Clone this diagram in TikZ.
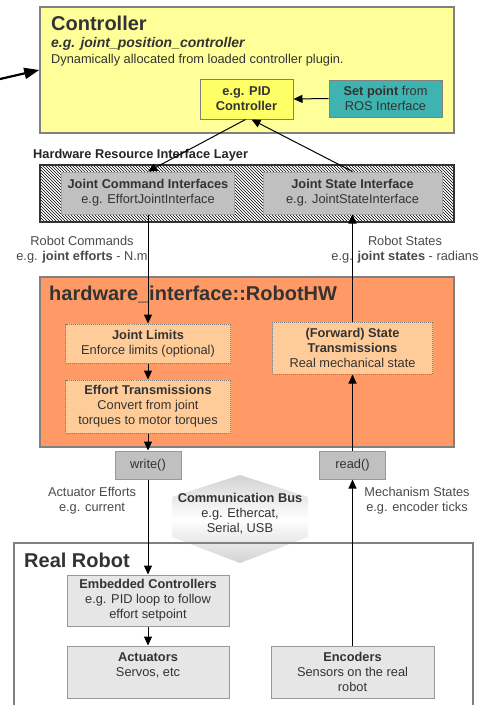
\documentclass[tikz,border=0pt]{standalone}
\usepackage{fontspec}
\setmainfont{Liberation Sans}
\usetikzlibrary{arrows.meta,patterns}
\definecolor{ctrlY}{HTML}{FFFF99}
\definecolor{pidY}{HTML}{FFFF66}
\definecolor{tealbox}{HTML}{3FB3AF}
\definecolor{ifgray}{HTML}{C0C0C0}
\definecolor{hwor}{HTML}{FF9966}
\definecolor{peach}{HTML}{FFCC99}
\definecolor{lgray}{HTML}{E6E6E6}
\definecolor{txt}{HTML}{333333}
\definecolor{lbl}{HTML}{4A4A4A}
\definecolor{bord}{HTML}{808080}
\tikzset{
  box/.style={draw=bord, line width=1pt, inner sep=2pt, align=center, text=txt,
              font=\fontsize{12.8}{15}\selectfont},
  dotbox/.style={box, draw=gray, dash pattern=on 1pt off 1pt, fill=peach},
  bigtitle/.style={anchor=base west, text=txt, font=\fontsize{20}{23}\selectfont\bfseries, inner sep=0pt},
  small/.style={anchor=base west, text=txt, font=\fontsize{12.8}{15}\selectfont, inner sep=0pt},
  lab/.style={align=center, text=lbl, font=\fontsize{12.8}{15}\selectfont, inner sep=0pt},
  arr/.style={-{Triangle[length=9pt,width=8pt]}, line width=1pt, black},
}
\begin{document}
\begin{tikzpicture}[x=1pt,y=-1pt]
\useasboundingbox (0,0) rectangle (483,705);
\fill[white] (0,0) rectangle (483,705);

% Controller
\node[draw=bord, line width=1.5pt, fill=ctrlY, minimum width=414pt, minimum height=126pt] (ctrl) at (247,70) {};
\node[bigtitle] (ctitle) at (51,30) {Controller};
\node[small, font=\fontsize{14}{16}\selectfont\bfseries\itshape] (cex) at (51,47) {e.g. joint\_position\_controller};
\node[small] (cdesc) at (51,63) {Dynamically allocated from loaded controller plugin.};
\node[box, fill=pidY, minimum width=93pt, minimum height=40pt] (pid) at (246.5,99) {\textbf{e.g. PID}\\\textbf{Controller}};
\node[box, fill=tealbox, minimum width=113pt, minimum height=37pt] (setp) at (385.5,98.5) {\textbf{Set point} from\\ROS Interface};
\coordinate (lin) at (0,79);
\draw[-{Triangle[length=15pt,width=11pt]}, line width=2.2pt] (lin) -- (ctrl.west);
\draw[arr] (setp.west) -- (pid.east);

% Hardware Resource Interface Layer
\node[anchor=base west, inner sep=0pt, text=black!85, font=\fontsize{12.8}{15}\selectfont\bfseries] (hrl) at (33,158) {Hardware Resource Interface Layer};
\node[draw=black!80, line width=1.3pt, pattern=north west lines, minimum width=414pt, minimum height=57pt] (layer) at (247,193.5) {};
\node[box, fill=ifgray, draw=gray!70, minimum width=173pt, minimum height=42pt] (jci) at (148,193) {\textbf{Joint Command Interfaces}\\e.g. EffortJointInterface};
\node[box, fill=ifgray, draw=gray!70, minimum width=179pt, minimum height=42pt] (jsi) at (352.5,193) {\textbf{Joint State Interface}\\e.g. JointStateInterface};
\draw[arr] ([xshift=-1pt]pid.south) -- (jci.north);
\draw[arr] (jsi.north) -- ([xshift=5pt]pid.south);

% labels
\node[lab] (rcmd) at (82,250) {Robot Commands\\e.g. \textbf{joint efforts} - N.m};
\node[lab] (rst) at (405,250) {Robot States\\e.g. \textbf{joint states} - radians};

% RobotHW
\node[draw=bord, line width=1.3pt, fill=hwor, minimum width=414pt, minimum height=170pt] (hw) at (247,362) {};
\node[bigtitle] (hwtitle) at (49,300) {hardware\_interface::RobotHW};
\node[dotbox, minimum width=165pt, minimum height=39pt] (jl) at (148,343.5) {\textbf{Joint Limits}\\Enforce limits (optional)};
\node[dotbox, minimum width=165pt, minimum height=53pt] (et) at (148,406.5) {\textbf{Effort Transmissions}\\Convert from joint\\torques to motor torques};
\node[dotbox, minimum width=160pt, minimum height=52pt] (st) at (352.5,348) {\textbf{(Forward) State}\\\textbf{Transmissions}\\Real mechanical state};
\draw[arr] (jci.south) -- (jl.north);
\draw[arr] (jl.south) -- (et.north);
\draw[arr] (st.north) -- (jsi.south);

% write / read
\node[box, fill=ifgray, draw=gray!80, minimum width=66pt, minimum height=28pt] (wr) at (148,465) {write()};
\node[box, fill=ifgray, draw=gray!80, minimum width=66pt, minimum height=28pt] (rd) at (352.5,465) {read()};
\draw[arr] (et.south) -- (wr.north);
\draw[arr] (rd.north) -- (st.south);

% Communication bus
\shade[top color=gray!35, bottom color=gray!35, middle color=white]
  (240,475) -- (308,497) -- (308,537) -- (240,563) -- (172,537) -- (172,497) -- cycle;
\node[lab, text=txt] (bus) at (240,514) {\textbf{Communication Bus}\\e.g. Ethercat,\\Serial, USB};
\node[lab] (aeff) at (92,501) {Actuator Efforts\\e.g. current};
\node[lab] (mst) at (417,501) {Mechanism States\\e.g. encoder ticks};

% Real Robot
\node[draw=gray, line width=1.3pt, minimum width=459pt, minimum height=168pt] (rr) at (243.5,627) {};
\node[bigtitle] (rrtitle) at (24,567) {Real Robot};
\node[box, fill=lgray, draw=gray!80, minimum width=162pt, minimum height=51pt] (emb) at (148,600.5) {\textbf{Embedded Controllers}\\e.g. PID loop to follow\\effort setpoint};
\node[box, fill=lgray, draw=gray!80, minimum width=162pt, minimum height=52pt] (act) at (148,672) {\textbf{Actuators}\\Servos, etc\\[-1pt]~};
\node[box, fill=lgray, draw=gray!80, minimum width=163pt, minimum height=52pt] (enc) at (352.5,672) {\textbf{Encoders}\\Sensors on the real\\robot};
\draw[arr] (wr.south) -- (emb.north);
\draw[arr] (emb.south) -- (act.north);
\draw[arr] (enc.north) -- (rd.south);
\end{tikzpicture}
\end{document}
